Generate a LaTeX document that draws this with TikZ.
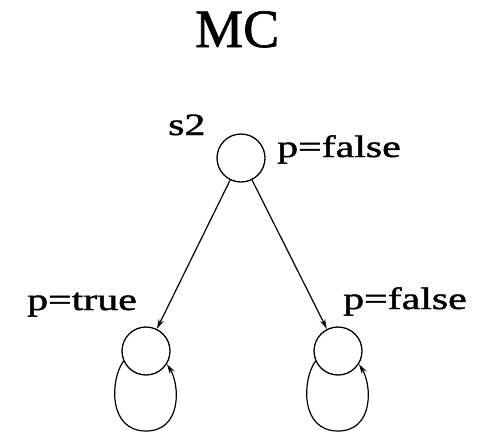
\documentclass[tikz,border=0pt]{standalone}
\usepackage{fontspec}
\usepackage{graphicx}
\setmainfont{Liberation Serif}
\newfontfamily\heavyserif[FakeBold=1.2]{Liberation Serif}
\usetikzlibrary{arrows.meta}
\tikzset{
  state/.style={draw, circle, minimum size=48pt, inner sep=0pt, line width=1.3pt},
  lbl/.style={anchor=base west, inner sep=0pt, font=\heavyserif\fontsize{31}{31}\selectfont},
  trans/.style={line width=1.2pt, -{Stealth[length=10pt,width=5.5pt]}},
}
\newcommand{\wide}[1]{\scalebox{1.35}[1]{#1}}
\begin{document}
\begin{tikzpicture}[x=1pt,y=-1pt]
\useasboundingbox (0,0) rectangle (481,432);
\node[anchor=base west, inner sep=0pt, font=\heavyserif\fontsize{54}{54}\selectfont] (title) at (195,47) {MC};
\node[state] (top) at (241,158) {};
\node[state] (bl) at (146,351) {};
\node[state] (br) at (338,351) {};
\node[lbl] (s2) at (168,135) {\wide{s2}};
\node[lbl] (ltop) at (277,157) {\wide{p=false}};
\node[lbl] (lbl) at (27,310) {\wide{p=true}};
\node[lbl] (lbr) at (343,309) {\wide{p=false}};
\draw[trans] (top) -- (bl);
\draw[trans] (top) -- (br);
\draw[trans] (bl.204) .. controls (110,380) and (108,431) .. (146,431)
  .. controls (182,431) and (180,385) .. (bl.-32);
\draw[trans] (br.204) .. controls (302,380) and (300,431) .. (338,431)
  .. controls (374,431) and (372,385) .. (br.-32);
\end{tikzpicture}
\end{document}
